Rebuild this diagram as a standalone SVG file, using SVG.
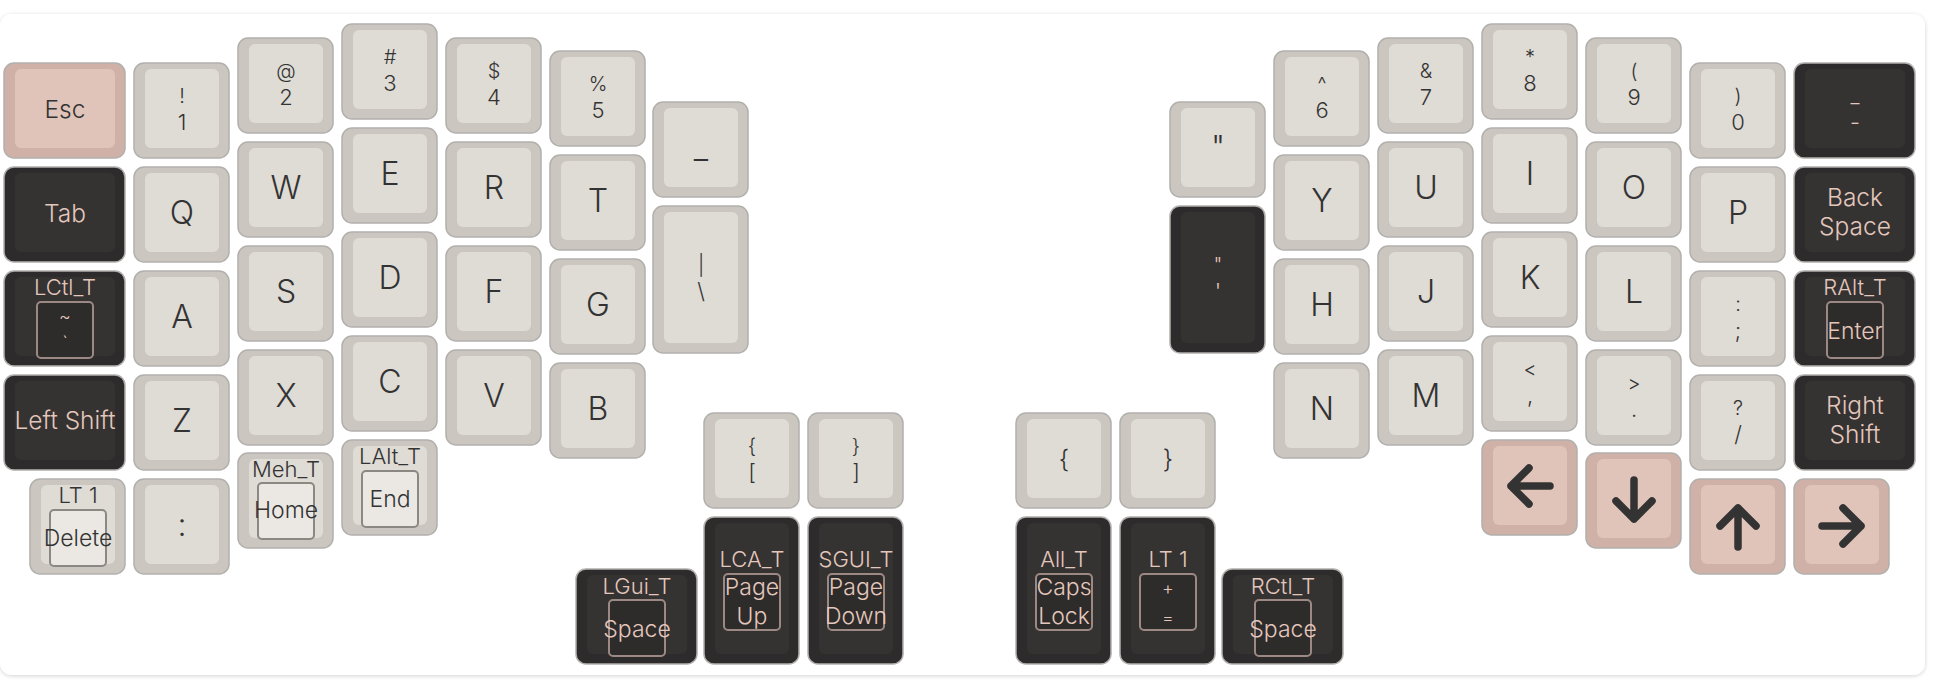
<svg xmlns="http://www.w3.org/2000/svg" width="1936" height="692" viewBox="0 0 1936 692">
<style>
text{font-family:Inter,"Open Sans","Liberation Sans",sans-serif;font-weight:300;text-anchor:middle;fill:#333}
.ko{stroke:#b2b0ad;stroke-width:1.5}
.L .ko{fill:#cbc7c0}.L .ki{fill:#dfdbd5}
.P .ko{fill:#cfb1a7}.P .ki{fill:#e0c4b9}
.D .ko{fill:#2d2b2b}.D .ki{fill:#353232}
.D text{fill:#e3c7bc}
.bx{stroke-width:2}
.L .bx{stroke:#8b8884;fill:#ebe8e3}
.D .bx{stroke:#9d8983;fill:#2e2b2b}
.f32{font-size:32px}.f25{font-size:25px}.fw{font-size:24.5px}.f23{font-size:23px}.f22{font-size:22px}.f20{font-size:20px}.f18{font-size:18px}
.arr{fill:none;stroke:#333;stroke-width:7.5;stroke-linecap:round;stroke-linejoin:round}
</style>
<defs>
<filter id="sh" x="-5%" y="-5%" width="110%" height="110%"><feDropShadow dx="0" dy="1" stdDeviation="2" flood-color="#000" flood-opacity="0.18"/></filter>
</defs>
<rect width="1936" height="692" fill="#fff"/>
<g id="card"><rect x="0" y="14" width="1925" height="661" rx="12" fill="#fff" filter="url(#sh)"/></g>
<g id="connectors"></g>
<g id="keys">
<!-- left col0 -->
<g id="key-esc" class="P" transform="translate(4,63)"><rect class="ko" width="121" height="95" rx="10"/><rect class="ki" x="11" y="6" width="100" height="79" rx="6"/><text x="61" y="55" class="fw">Esc</text></g>
<g id="key-tab" class="D" transform="translate(4,167)"><rect class="ko" width="121" height="95" rx="10"/><rect class="ki" x="11" y="6" width="100" height="79" rx="6"/><text x="61" y="55" class="fw">Tab</text></g>
<g id="key-lctl" class="D" transform="translate(4,271)"><rect class="ko" width="121" height="95" rx="10"/><rect class="ki" x="11" y="6" width="100" height="79" rx="6"/><text x="61" y="24" class="f22">LCtl_T</text><rect class="bx" x="33" y="31" width="56" height="56" rx="4"/><text x="61" y="52" class="f18">~</text><text x="61" y="78" class="f18">`</text></g>
<g id="key-lshift" class="D" transform="translate(4,375)"><rect class="ko" width="121" height="95" rx="10"/><rect class="ki" x="11" y="6" width="100" height="79" rx="6"/><text x="61" y="54" class="fw">Left Shift</text></g>
<g id="key-lt1-del" class="L" transform="translate(30,479)"><rect class="ko" width="95" height="95" rx="10"/><rect class="ki" x="11" y="6" width="74" height="79" rx="6"/><text x="48" y="24" class="f22">LT 1</text><rect class="bx" x="20" y="31" width="56" height="56" rx="4"/><text x="48" y="67" class="f23">Delete</text></g>
<!-- left col1 -->
<g id="key-1" class="L" transform="translate(134,63)"><rect class="ko" width="95" height="95" rx="10"/><rect class="ki" x="11" y="6" width="74" height="79" rx="6"/><text x="48" y="40" class="f20">!</text><text x="48" y="67" class="f22">1</text></g>
<g id="key-q" class="L" transform="translate(134,167)"><rect class="ko" width="95" height="95" rx="10"/><rect class="ki" x="11" y="6" width="74" height="79" rx="6"/><text x="48" y="57" class="f32">Q</text></g>
<g id="key-a" class="L" transform="translate(134,271)"><rect class="ko" width="95" height="95" rx="10"/><rect class="ki" x="11" y="6" width="74" height="79" rx="6"/><text x="48" y="57" class="f32">A</text></g>
<g id="key-z" class="L" transform="translate(134,375)"><rect class="ko" width="95" height="95" rx="10"/><rect class="ki" x="11" y="6" width="74" height="79" rx="6"/><text x="48" y="57" class="f32">Z</text></g>
<g id="key-colon" class="L" transform="translate(134,479)"><rect class="ko" width="95" height="95" rx="10"/><rect class="ki" x="11" y="6" width="74" height="79" rx="6"/><text x="48" y="57" class="f32">:</text></g>
<!-- left col2 -->
<g id="key-2" class="L" transform="translate(238,38)"><rect class="ko" width="95" height="95" rx="10"/><rect class="ki" x="11" y="6" width="74" height="79" rx="6"/><text x="48" y="40" class="f20">@</text><text x="48" y="67" class="f22">2</text></g>
<g id="key-w" class="L" transform="translate(238,142)"><rect class="ko" width="95" height="95" rx="10"/><rect class="ki" x="11" y="6" width="74" height="79" rx="6"/><text x="48" y="57" class="f32">W</text></g>
<g id="key-s" class="L" transform="translate(238,246)"><rect class="ko" width="95" height="95" rx="10"/><rect class="ki" x="11" y="6" width="74" height="79" rx="6"/><text x="48" y="57" class="f32">S</text></g>
<g id="key-x" class="L" transform="translate(238,350)"><rect class="ko" width="95" height="95" rx="10"/><rect class="ki" x="11" y="6" width="74" height="79" rx="6"/><text x="48" y="57" class="f32">X</text></g>
<g id="key-meh-home" class="L" transform="translate(238,453)"><rect class="ko" width="95" height="95" rx="10"/><rect class="ki" x="11" y="6" width="74" height="79" rx="6"/><text x="48" y="24" class="f22">Meh_T</text><rect class="bx" x="20" y="30" width="56" height="56" rx="4"/><text x="48" y="65" class="f23">Home</text></g>
<!-- left col3 -->
<g id="key-3" class="L" transform="translate(342,24)"><rect class="ko" width="95" height="95" rx="10"/><rect class="ki" x="11" y="6" width="74" height="79" rx="6"/><text x="48" y="40" class="f20">#</text><text x="48" y="67" class="f22">3</text></g>
<g id="key-e" class="L" transform="translate(342,128)"><rect class="ko" width="95" height="95" rx="10"/><rect class="ki" x="11" y="6" width="74" height="79" rx="6"/><text x="48" y="57" class="f32">E</text></g>
<g id="key-d" class="L" transform="translate(342,232)"><rect class="ko" width="95" height="95" rx="10"/><rect class="ki" x="11" y="6" width="74" height="79" rx="6"/><text x="48" y="57" class="f32">D</text></g>
<g id="key-c" class="L" transform="translate(342,336)"><rect class="ko" width="95" height="95" rx="10"/><rect class="ki" x="11" y="6" width="74" height="79" rx="6"/><text x="48" y="57" class="f32">C</text></g>
<g id="key-lalt-end" class="L" transform="translate(342,440)"><rect class="ko" width="95" height="95" rx="10"/><rect class="ki" x="11" y="6" width="74" height="79" rx="6"/><text x="48" y="24" class="f22">LAlt_T</text><rect class="bx" x="20" y="31" width="56" height="56" rx="4"/><text x="48" y="67" class="f23">End</text></g>
<!-- left col4 -->
<g id="key-4" class="L" transform="translate(446,38)"><rect class="ko" width="95" height="95" rx="10"/><rect class="ki" x="11" y="6" width="74" height="79" rx="6"/><text x="48" y="40" class="f20">$</text><text x="48" y="67" class="f22">4</text></g>
<g id="key-r" class="L" transform="translate(446,142)"><rect class="ko" width="95" height="95" rx="10"/><rect class="ki" x="11" y="6" width="74" height="79" rx="6"/><text x="48" y="57" class="f32">R</text></g>
<g id="key-f" class="L" transform="translate(446,246)"><rect class="ko" width="95" height="95" rx="10"/><rect class="ki" x="11" y="6" width="74" height="79" rx="6"/><text x="48" y="57" class="f32">F</text></g>
<g id="key-v" class="L" transform="translate(446,350)"><rect class="ko" width="95" height="95" rx="10"/><rect class="ki" x="11" y="6" width="74" height="79" rx="6"/><text x="48" y="57" class="f32">V</text></g>
<!-- left col5 -->
<g id="key-5" class="L" transform="translate(550,51)"><rect class="ko" width="95" height="95" rx="10"/><rect class="ki" x="11" y="6" width="74" height="79" rx="6"/><text x="48" y="40" class="f20">%</text><text x="48" y="67" class="f22">5</text></g>
<g id="key-t" class="L" transform="translate(550,155)"><rect class="ko" width="95" height="95" rx="10"/><rect class="ki" x="11" y="6" width="74" height="79" rx="6"/><text x="48" y="57" class="f32">T</text></g>
<g id="key-g" class="L" transform="translate(550,259)"><rect class="ko" width="95" height="95" rx="10"/><rect class="ki" x="11" y="6" width="74" height="79" rx="6"/><text x="48" y="57" class="f32">G</text></g>
<g id="key-b" class="L" transform="translate(550,363)"><rect class="ko" width="95" height="95" rx="10"/><rect class="ki" x="11" y="6" width="74" height="79" rx="6"/><text x="48" y="57" class="f32">B</text></g>
<!-- left col6 -->
<g id="key-underscore" class="L" transform="translate(653,102)"><rect class="ko" width="95" height="95" rx="10"/><rect class="ki" x="11" y="6" width="74" height="79" rx="6"/><text x="48" y="57" class="f32">_</text></g>
<g id="key-pipe" class="L" transform="translate(653,206)"><rect class="ko" width="95" height="147" rx="10"/><rect class="ki" x="11" y="6" width="74" height="131" rx="6"/><text x="48" y="66" class="f20">|</text><text x="48" y="93" class="f22">\</text></g>
<!-- left thumbs -->
<g id="key-lbracket" class="L" transform="translate(704,413)"><rect class="ko" width="95" height="95" rx="10"/><rect class="ki" x="11" y="6" width="74" height="79" rx="6"/><text x="48" y="40" class="f20">{</text><text x="48" y="67" class="f22">[</text></g>
<g id="key-rbracket" class="L" transform="translate(808,413)"><rect class="ko" width="95" height="95" rx="10"/><rect class="ki" x="11" y="6" width="74" height="79" rx="6"/><text x="48" y="40" class="f20">}</text><text x="48" y="67" class="f22">]</text></g>
<g id="key-lgui-space" class="D" transform="translate(576,569)"><rect class="ko" width="121" height="95" rx="10"/><rect class="ki" x="11" y="6" width="100" height="79" rx="6"/><text x="61" y="25" class="f22">LGui_T</text><rect class="bx" x="33" y="31" width="56" height="56" rx="4"/><text x="61" y="68" class="f23">Space</text></g>
<g id="key-lca-pgup" class="D" transform="translate(704,517)"><rect class="ko" width="95" height="147" rx="10"/><rect class="ki" x="11" y="6" width="74" height="131" rx="6"/><text x="48" y="50" class="f22">LCA_T</text><rect class="bx" x="20" y="57" width="56" height="56" rx="4"/><text x="48" y="78" class="f23">Page</text><text x="48" y="107" class="f23">Up</text></g>
<g id="key-sgui-pgdn" class="D" transform="translate(808,517)"><rect class="ko" width="95" height="147" rx="10"/><rect class="ki" x="11" y="6" width="74" height="131" rx="6"/><text x="48" y="50" class="f22">SGUI_T</text><rect class="bx" x="20" y="57" width="56" height="56" rx="4"/><text x="48" y="78" class="f23">Page</text><text x="48" y="107" class="f23">Down</text></g>
<!-- right thumbs -->
<g id="key-lbrace" class="L" transform="translate(1016,413)"><rect class="ko" width="95" height="95" rx="10"/><rect class="ki" x="11" y="6" width="74" height="79" rx="6"/><text x="48" y="55" class="f25">{</text></g>
<g id="key-rbrace" class="L" transform="translate(1120,413)"><rect class="ko" width="95" height="95" rx="10"/><rect class="ki" x="11" y="6" width="74" height="79" rx="6"/><text x="48" y="55" class="f25">}</text></g>
<g id="key-all-caps" class="D" transform="translate(1016,517)"><rect class="ko" width="95" height="147" rx="10"/><rect class="ki" x="11" y="6" width="74" height="131" rx="6"/><text x="48" y="50" class="f22">All_T</text><rect class="bx" x="20" y="57" width="56" height="56" rx="4"/><text x="48" y="78" class="f23">Caps</text><text x="48" y="107" class="f23">Lock</text></g>
<g id="key-lt1-eq" class="D" transform="translate(1120,517)"><rect class="ko" width="95" height="147" rx="10"/><rect class="ki" x="11" y="6" width="74" height="131" rx="6"/><text x="48" y="50" class="f22">LT 1</text><rect class="bx" x="20" y="57" width="56" height="56" rx="4"/><text x="48" y="78" class="f18">+</text><text x="48" y="107" class="f18">=</text></g>
<g id="key-rctl-space" class="D" transform="translate(1222,569)"><rect class="ko" width="121" height="95" rx="10"/><rect class="ki" x="11" y="6" width="100" height="79" rx="6"/><text x="61" y="25" class="f22">RCtl_T</text><rect class="bx" x="33" y="31" width="56" height="56" rx="4"/><text x="61" y="68" class="f23">Space</text></g>
<!-- right col6 -->
<g id="key-dquote" class="L" transform="translate(1170,102)"><rect class="ko" width="95" height="95" rx="10"/><rect class="ki" x="11" y="6" width="74" height="79" rx="6"/><text x="48" y="57" class="f32">"</text></g>
<g id="key-quote" class="D" transform="translate(1170,206)"><rect class="ko" width="95" height="147" rx="10"/><rect class="ki" x="11" y="6" width="74" height="131" rx="6"/><text x="48" y="66" class="f20">"</text><text x="48" y="93" class="f22">'</text></g>
<!-- right col5 -->
<g id="key-6" class="L" transform="translate(1274,51)"><rect class="ko" width="95" height="95" rx="10"/><rect class="ki" x="11" y="6" width="74" height="79" rx="6"/><text x="48" y="40" class="f20">^</text><text x="48" y="67" class="f22">6</text></g>
<g id="key-y" class="L" transform="translate(1274,155)"><rect class="ko" width="95" height="95" rx="10"/><rect class="ki" x="11" y="6" width="74" height="79" rx="6"/><text x="48" y="57" class="f32">Y</text></g>
<g id="key-h" class="L" transform="translate(1274,259)"><rect class="ko" width="95" height="95" rx="10"/><rect class="ki" x="11" y="6" width="74" height="79" rx="6"/><text x="48" y="57" class="f32">H</text></g>
<g id="key-n" class="L" transform="translate(1274,363)"><rect class="ko" width="95" height="95" rx="10"/><rect class="ki" x="11" y="6" width="74" height="79" rx="6"/><text x="48" y="57" class="f32">N</text></g>
<!-- right col4 -->
<g id="key-7" class="L" transform="translate(1378,38)"><rect class="ko" width="95" height="95" rx="10"/><rect class="ki" x="11" y="6" width="74" height="79" rx="6"/><text x="48" y="40" class="f20">&amp;</text><text x="48" y="67" class="f22">7</text></g>
<g id="key-u" class="L" transform="translate(1378,142)"><rect class="ko" width="95" height="95" rx="10"/><rect class="ki" x="11" y="6" width="74" height="79" rx="6"/><text x="48" y="57" class="f32">U</text></g>
<g id="key-j" class="L" transform="translate(1378,246)"><rect class="ko" width="95" height="95" rx="10"/><rect class="ki" x="11" y="6" width="74" height="79" rx="6"/><text x="48" y="57" class="f32">J</text></g>
<g id="key-m" class="L" transform="translate(1378,350)"><rect class="ko" width="95" height="95" rx="10"/><rect class="ki" x="11" y="6" width="74" height="79" rx="6"/><text x="48" y="57" class="f32">M</text></g>
<!-- right col3 -->
<g id="key-8" class="L" transform="translate(1482,24)"><rect class="ko" width="95" height="95" rx="10"/><rect class="ki" x="11" y="6" width="74" height="79" rx="6"/><text x="48" y="40" class="f20">*</text><text x="48" y="67" class="f22">8</text></g>
<g id="key-i" class="L" transform="translate(1482,128)"><rect class="ko" width="95" height="95" rx="10"/><rect class="ki" x="11" y="6" width="74" height="79" rx="6"/><text x="48" y="57" class="f32">I</text></g>
<g id="key-k" class="L" transform="translate(1482,232)"><rect class="ko" width="95" height="95" rx="10"/><rect class="ki" x="11" y="6" width="74" height="79" rx="6"/><text x="48" y="57" class="f32">K</text></g>
<g id="key-comma" class="L" transform="translate(1482,336)"><rect class="ko" width="95" height="95" rx="10"/><rect class="ki" x="11" y="6" width="74" height="79" rx="6"/><text x="48" y="40" class="f20">&lt;</text><text x="48" y="67" class="f22">,</text></g>
<g id="key-left" class="P" transform="translate(1482,440)"><rect class="ko" width="95" height="95" rx="10"/><rect class="ki" x="11" y="6" width="74" height="79" rx="6"/><path class="arr" d="M68,46 H29 M47,28 L29,46 L47,64"/></g>
<!-- right col2 -->
<g id="key-9" class="L" transform="translate(1586,38)"><rect class="ko" width="95" height="95" rx="10"/><rect class="ki" x="11" y="6" width="74" height="79" rx="6"/><text x="48" y="40" class="f20">(</text><text x="48" y="67" class="f22">9</text></g>
<g id="key-o" class="L" transform="translate(1586,142)"><rect class="ko" width="95" height="95" rx="10"/><rect class="ki" x="11" y="6" width="74" height="79" rx="6"/><text x="48" y="57" class="f32">O</text></g>
<g id="key-l" class="L" transform="translate(1586,246)"><rect class="ko" width="95" height="95" rx="10"/><rect class="ki" x="11" y="6" width="74" height="79" rx="6"/><text x="48" y="57" class="f32">L</text></g>
<g id="key-dot" class="L" transform="translate(1586,350)"><rect class="ko" width="95" height="95" rx="10"/><rect class="ki" x="11" y="6" width="74" height="79" rx="6"/><text x="48" y="40" class="f20">&gt;</text><text x="48" y="67" class="f22">.</text></g>
<g id="key-down" class="P" transform="translate(1586,453)"><rect class="ko" width="95" height="95" rx="10"/><rect class="ki" x="11" y="6" width="74" height="79" rx="6"/><path class="arr" d="M48,27 V66 M30,48 L48,66 L66,48"/></g>
<!-- right col1 -->
<g id="key-0" class="L" transform="translate(1690,63)"><rect class="ko" width="95" height="95" rx="10"/><rect class="ki" x="11" y="6" width="74" height="79" rx="6"/><text x="48" y="40" class="f20">)</text><text x="48" y="67" class="f22">0</text></g>
<g id="key-p" class="L" transform="translate(1690,167)"><rect class="ko" width="95" height="95" rx="10"/><rect class="ki" x="11" y="6" width="74" height="79" rx="6"/><text x="48" y="57" class="f32">P</text></g>
<g id="key-semicolon" class="L" transform="translate(1690,271)"><rect class="ko" width="95" height="95" rx="10"/><rect class="ki" x="11" y="6" width="74" height="79" rx="6"/><text x="48" y="40" class="f20">:</text><text x="48" y="67" class="f22">;</text></g>
<g id="key-slash" class="L" transform="translate(1690,375)"><rect class="ko" width="95" height="95" rx="10"/><rect class="ki" x="11" y="6" width="74" height="79" rx="6"/><text x="48" y="40" class="f20">?</text><text x="48" y="67" class="f22">/</text></g>
<g id="key-up" class="P" transform="translate(1690,479)"><rect class="ko" width="95" height="95" rx="10"/><rect class="ki" x="11" y="6" width="74" height="79" rx="6"/><path class="arr" d="M48,68 V29 M30,47 L48,29 L66,47"/></g>
<!-- right col0 -->
<g id="key-minus" class="D" transform="translate(1794,63)"><rect class="ko" width="121" height="95" rx="10"/><rect class="ki" x="11" y="6" width="100" height="79" rx="6"/><text x="61" y="40" class="f20">_</text><text x="61" y="67" class="f22">-</text></g>
<g id="key-bksp" class="D" transform="translate(1794,167)"><rect class="ko" width="121" height="95" rx="10"/><rect class="ki" x="11" y="6" width="100" height="79" rx="6"/><text x="61" y="39" class="fw">Back</text><text x="61" y="68" class="fw">Space</text></g>
<g id="key-ralt-enter" class="D" transform="translate(1794,271)"><rect class="ko" width="121" height="95" rx="10"/><rect class="ki" x="11" y="6" width="100" height="79" rx="6"/><text x="61" y="24" class="f22">RAlt_T</text><rect class="bx" x="33" y="31" width="56" height="56" rx="4"/><text x="61" y="68" class="f23">Enter</text></g>
<g id="key-rshift" class="D" transform="translate(1794,375)"><rect class="ko" width="121" height="95" rx="10"/><rect class="ki" x="11" y="6" width="100" height="79" rx="6"/><text x="61" y="39" class="fw">Right</text><text x="61" y="68" class="fw">Shift</text></g>
<g id="key-right" class="P" transform="translate(1794,479)"><rect class="ko" width="95" height="95" rx="10"/><rect class="ki" x="11" y="6" width="74" height="79" rx="6"/><path class="arr" d="M28,47 H67 M49,29 L67,47 L49,65"/></g>
</g>
</svg>
